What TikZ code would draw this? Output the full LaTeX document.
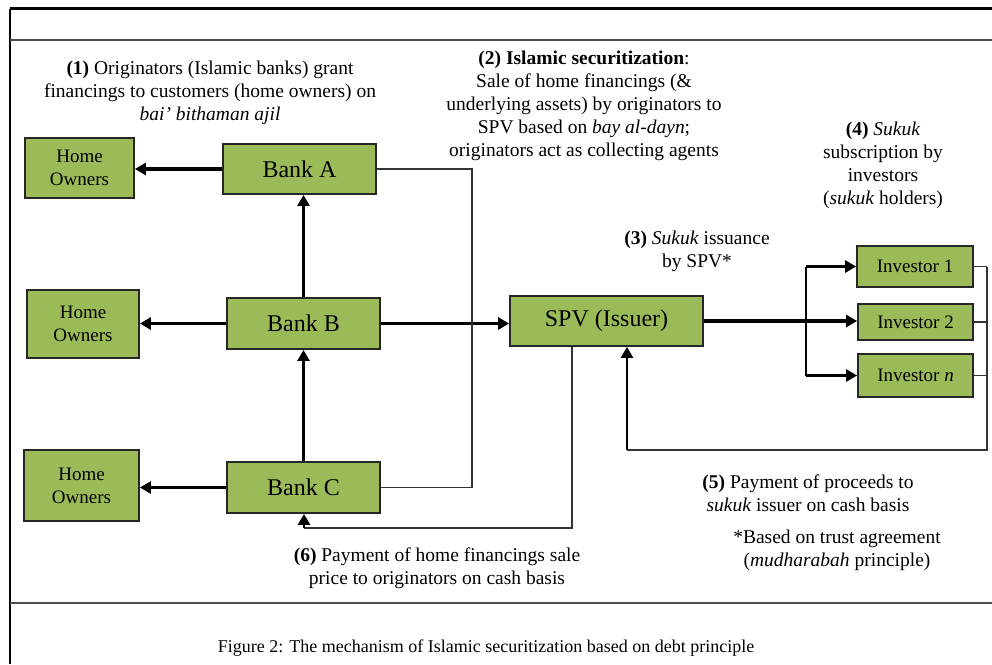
\documentclass[tikz,border=0pt]{standalone}
\usepackage{fontspec}
\setmainfont{Liberation Serif}
\usetikzlibrary{arrows.meta,calc}
\definecolor{boxgreen}{HTML}{9BBB59}
\begin{document}
\begin{tikzpicture}[x=1pt,y=-1pt,
  box/.style={draw=black!85,line width=1.8pt,fill=boxgreen,inner sep=0pt,align=center},
  ho/.style={box,font=\fontsize{19}{23}\selectfont},
  bank/.style={box,font=\fontsize{24}{26}\selectfont},
  inv/.style={box,font=\fontsize{19}{22}\selectfont},
  txt/.style={align=center,inner sep=0pt,font=\fontsize{19.5}{23}\selectfont},
  thick arrow/.style={line width=3.5pt,-{Triangle[length=11pt,width=12pt]}},
  thin line/.style={line width=1.7pt,draw=black!80},
  mid arrow/.style={line width=2.6pt,-{Triangle[length=11pt,width=12pt]}}
]
\useasboundingbox (0,0) rectangle (992,664);
% frame
\draw[line width=2.5pt] (10,8.5) -- (992,8.5);
\draw[line width=2pt] (10,8.5) -- (10,664);
\draw[line width=1.6pt,black!70] (10,40) -- (992,40);
\draw[line width=1.6pt,black!70] (10,603) -- (992,603);

% boxes
\node[ho,minimum width=109pt,minimum height=60pt] (Ha) at (79.5,168) {Home\\Owners};
\node[ho,minimum width=112pt,minimum height=68pt] (Hb) at (83,324) {Home\\Owners};
\node[ho,minimum width=115pt,minimum height=71pt] (Hc) at (81.5,485.5) {Home\\Owners};
\node[bank,minimum width=153pt,minimum height=50pt] (Ba) at (299.5,169) {Bank A};
\node[bank,minimum width=153pt,minimum height=51pt] (Bb) at (303.5,323.5) {Bank B};
\node[bank,minimum width=153pt,minimum height=51pt] (Bc) at (303.5,487.5) {Bank C};
\node[bank,minimum width=193pt,minimum height=50pt] (S) at (606.5,321) {SPV (Issuer)};
\node[inv,minimum width=116pt,minimum height=41pt] (I1) at (915,266.5) {Investor 1};
\node[inv,minimum width=115pt,minimum height=36pt] (I2) at (915.5,322) {Investor 2};
\node[inv,minimum width=115pt,minimum height=43pt] (In) at (915.5,375.5) {Investor \textit{n}};

% coordinates
\coordinate (j1) at (472,0);
\coordinate (p6) at (572,528);
\coordinate (c6) at (304,528);
\coordinate (br) at (806,0);
\coordinate (r1) at (987,450);
\coordinate (r2) at (627,450);

% bank to home owners
\draw[thick arrow] (Ba.west) -- (Ba.west -| Ha.east);
\draw[thick arrow] (Bb.west) -- (Bb.west -| Hb.east);
\draw[thick arrow] (Bc.west) -- (Bc.west -| Hc.east);
% bank chain
\draw[thick arrow] (Bb.north) -- (Bb.north |- Ba.south);
\draw[thick arrow] (Bc.north) -- (Bb.south);
% bank B to SPV
\draw[thick arrow] (Bb.east) -- (Bb.east -| S.west);
% collecting line
\draw[thin line] (Ba.east) -- (Ba.east -| j1) -- (Bc.east -| j1) -- (Bc.east);
% payment to originators
\draw[thin line] (S.south -| p6) -- (p6) -- (c6);
\draw[mid arrow] (c6) -- (Bc.south -| c6);
% SPV to investors
\draw[thick arrow] (S.east) -- (S.east -| I2.west);
\draw[line width=2pt] (br |- I1.west) -- (br |- In.west);
\draw[thick arrow] (br |- I1.west) -- (I1.west);
\draw[thick arrow] (br |- In.west) -- (In.west);
% investors back to SPV
\draw[thin line] (I1.east) -- (I1.east -| r1);
\draw[thin line] (I2.east) -- (I2.east -| r1);
\draw[thin line] (In.east) -- (In.east -| r1);
\draw[thin line] (I1.east -| r1) -- (r1) -- (r2);
\draw[mid arrow] (r2) -- (r2 |- S.south);

% texts
\node[txt] (t1) at (210,93) {\textbf{(1)} Originators (Islamic banks) grant\\financings to customers (home owners) on\\\textit{bai' bithaman ajil}};
\node[txt] (t2) at (584,106) {\textbf{(2) Islamic securitization}:\\Sale of home financings (\&\\underlying assets) by originators to\\SPV based on \textit{bay al-dayn};\\originators act as collecting agents};
\node[txt] (t4) at (883,165) {\textbf{(4)} \textit{Sukuk}\\subscription by\\investors\\(\textit{sukuk} holders)};
\node[txt] (t3) at (697,251) {\textbf{(3)} \textit{Sukuk} issuance\\by SPV*};
\node[txt] (t5) at (808,493.5) {\textbf{(5)} Payment of proceeds to\\\textit{sukuk} issuer on cash basis};
\node[txt] (t7) at (837,550.5) {*Based on trust agreement\\(\textit{mudharabah} principle)};
\node[txt] (t6) at (437,568.5) {\textbf{(6)} Payment of home financings sale\\price to originators on cash basis};
\node[txt,font=\fontsize{18}{20}\selectfont] (cap) at (486,648) {Figure 2: The mechanism of Islamic securitization based on debt principle};
\end{tikzpicture}
\end{document}
